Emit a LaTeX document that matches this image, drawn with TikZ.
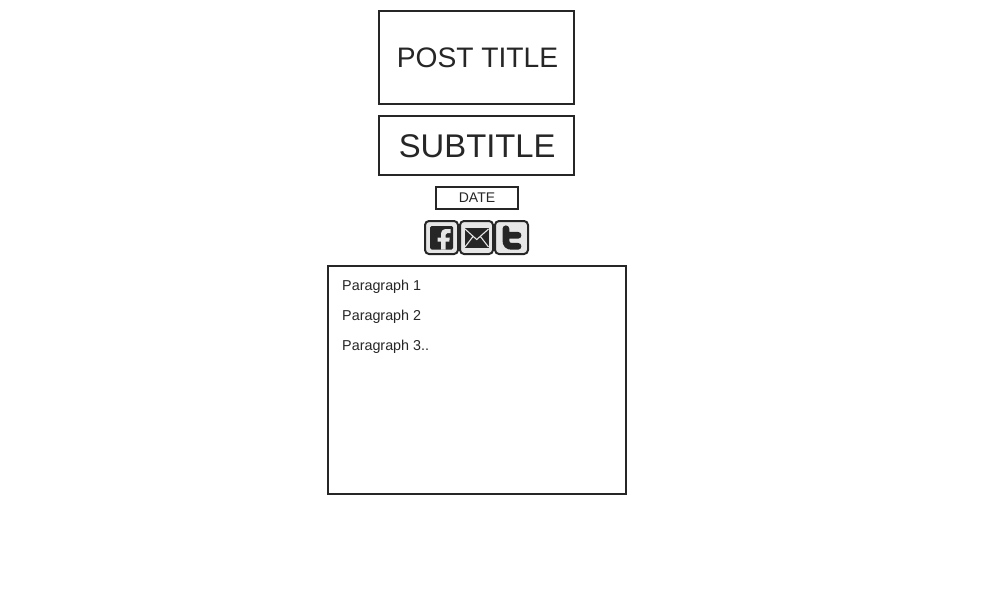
\documentclass[tikz,border=0pt]{standalone}
\usepackage{fontspec}
\setmainfont{Liberation Sans}
\definecolor{ink}{HTML}{262626}
\definecolor{btn}{HTML}{E6E6E6}
\tikzset{
  wire/.style={draw=ink,line width=2pt,fill=white},
  lbl/.style={text=ink,inner sep=0pt},
  para/.style={text=ink,inner sep=0pt,anchor=base west,font=\fontsize{14.35}{14}\selectfont},
  iconbtn/.style={draw=ink,line width=2pt,fill=btn,rounded corners=4pt,minimum width=33pt,minimum height=33pt,inner sep=0pt,outer sep=0pt},
}
\begin{document}
\begin{tikzpicture}[x=1pt,y=-1pt]
\useasboundingbox (0,0) rectangle (1000,600);
\fill[white] (0,0) rectangle (1000,600);
\draw[wire] (379,11) rectangle (574,104);
\node[lbl,font=\fontsize{28.2}{28}\selectfont,anchor=base] (title) at (477.5,67) {POST TITLE};
\draw[wire] (379,116) rectangle (574,175);
\node[lbl,font=\fontsize{32.8}{33}\selectfont,anchor=base] (subtitle) at (477.2,157) {SUBTITLE};
\draw[wire] (436,187) rectangle (518,209);
\node[lbl,font=\fontsize{14}{14}\selectfont,anchor=base] (date) at (477,202) {DATE};
\node[iconbtn] (fb) at (441.5,237.5) {};
\node[iconbtn] (mail) at (476.5,237.5) {};
\node[iconbtn] (tw) at (511.5,237.5) {};
% facebook
\fill[ink,rounded corners=1.5pt] (430,226) rectangle (453,249.5);
\fill[btn] (445.5,249.5) -- (445.5,241.5) -- (449.3,241.5) -- (449.8,237.5) -- (445.5,237.5) -- (445.5,234.8) .. controls (445.5,233.6) and (446.1,233) .. (447.3,233) -- (450.6,233) -- (450.6,229) -- (446.5,229) .. controls (443,229) and (441,231) .. (441,234.3) -- (441,237.5) -- (437.5,237.5) -- (437.5,241.5) -- (441,241.5) -- (441,249.5) -- cycle;
% mail
\fill[ink] (464.5,227.5) rectangle (489,248);
\draw[btn,line width=1.1pt] (465,229) -- (476.7,239.5) -- (488.5,229) (465,247) -- (473,236.5) (488.5,247) -- (480.4,236.5);
% twitter
\draw[ink,line width=6.8pt,line cap=round] (505.9,228.8) -- (505.9,240) .. controls (505.9,244.5) and (508,246.3) .. (512,246.3) -- (518,246.3) (505.9,235.3) -- (518,235.3);
\draw[wire] (328,266) rectangle (626,494);
\node[para] (p1) at (342,290) {Paragraph 1};
\node[para] (p2) at (342,320) {Paragraph 2};
\node[para] (p3) at (342,350) {Paragraph 3..};
\end{tikzpicture}
\end{document}
